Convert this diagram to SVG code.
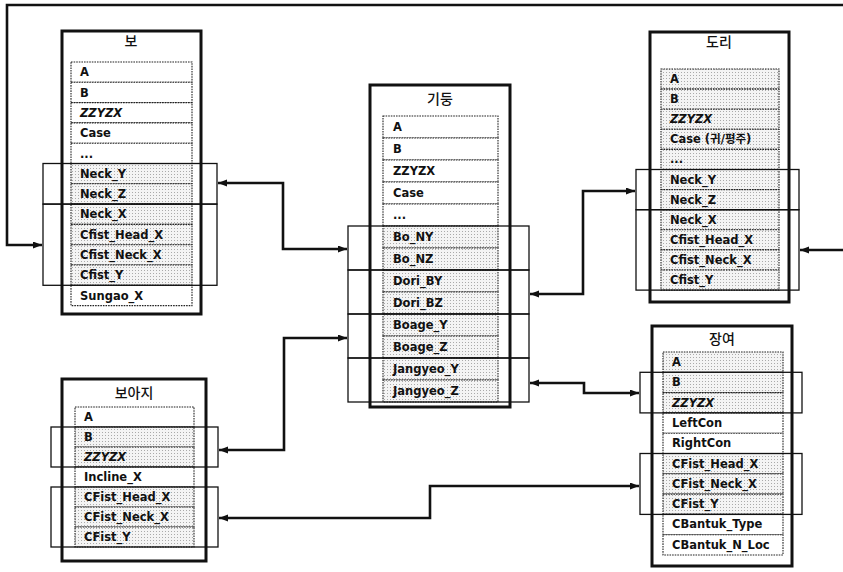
<svg xmlns="http://www.w3.org/2000/svg" width="843" height="572" viewBox="0 0 843 572">
<style>
.bg{fill:#fff}
.box{fill:#fff;stroke:#111;stroke-width:3}
.row{fill:#fff;stroke:#222;stroke-width:1.1;stroke-dasharray:1.6 1}
.sh{fill:url(#dots);stroke:#222;stroke-width:1.1;stroke-dasharray:1.6 1}
.grp{fill:none;stroke:#111;stroke-width:1.3}
.t{font-family:"DejaVu Sans","Noto Sans CJK KR",sans-serif;font-weight:bold;font-size:11.5px;fill:#111}
.it{font-style:italic}
.ti{font-family:"Noto Sans CJK KR","Noto Sans",sans-serif;font-size:14px;font-weight:500;fill:#111;text-anchor:middle}
.con{fill:none;stroke:#111;stroke-width:2.6;marker-start:url(#ah);marker-end:url(#ah)}
</style>
<defs>
<pattern id="dots" width="3" height="3" patternUnits="userSpaceOnUse"><rect width="3" height="3" fill="#f4f4f4"/><rect width="1" height="1" fill="#aaa"/></pattern>
<marker id="ah" markerUnits="userSpaceOnUse" markerWidth="10" markerHeight="8" refX="9" refY="3.5" orient="auto-start-reverse"><path d="M0,0 L9,3.5 L0,7 z" fill="#111"/></marker>
</defs>
<rect class="bg" width="843" height="572"/>

<g id="bo">
<rect class="box" x="62" y="31" width="139" height="283"/>
<text class="ti" x="131" y="46">보</text>
<rect class="row" x="71" y="62" width="121" height="20.3"/>
<rect class="row" x="71" y="82.3" width="121" height="20.3"/>
<rect class="row" x="71" y="102.6" width="121" height="20.3"/>
<rect class="row" x="71" y="122.9" width="121" height="20.3"/>
<rect class="row" x="71" y="143.2" width="121" height="20.3"/>
<rect class="sh" x="71" y="163.5" width="121" height="20.3"/>
<rect class="sh" x="71" y="183.8" width="121" height="20.3"/>
<rect class="sh" x="71" y="204.1" width="121" height="20.3"/>
<rect class="sh" x="71" y="224.4" width="121" height="20.3"/>
<rect class="sh" x="71" y="244.7" width="121" height="20.3"/>
<rect class="sh" x="71" y="265" width="121" height="20.3"/>
<rect class="row" x="71" y="285.3" width="121" height="20.3"/>
<text class="t" x="80" y="76.3">A</text>
<text class="t" x="80" y="96.6">B</text>
<text class="t it" x="80" y="116.9">ZZYZX</text>
<text class="t" x="80" y="137.2">Case</text>
<text class="t" x="80" y="157.5">...</text>
<text class="t" x="80" y="177.8">Neck_Y</text>
<text class="t" x="80" y="198.1">Neck_Z</text>
<text class="t" x="80" y="218.4">Neck_X</text>
<text class="t" x="80" y="238.7">Cfist_Head_X</text>
<text class="t" x="80" y="259">Cfist_Neck_X</text>
<text class="t" x="80" y="279.3">Cfist_Y</text>
<text class="t" x="80" y="299.6">Sungao_X</text>
<rect class="grp" x="43" y="163.5" width="174" height="40.6"/>
<rect class="grp" x="43" y="204.1" width="174" height="81.2"/>
</g>

<g id="gidung">
<rect class="box" x="370" y="85" width="140" height="322"/>
<text class="ti" x="440" y="104">기둥</text>
<rect class="row" x="383" y="116" width="115" height="22"/>
<rect class="row" x="383" y="138" width="115" height="22"/>
<rect class="row" x="383" y="160" width="115" height="22"/>
<rect class="row" x="383" y="182" width="115" height="22"/>
<rect class="row" x="383" y="204" width="115" height="22"/>
<rect class="sh" x="383" y="226" width="115" height="22"/>
<rect class="sh" x="383" y="248" width="115" height="22"/>
<rect class="sh" x="383" y="270" width="115" height="22"/>
<rect class="sh" x="383" y="292" width="115" height="22"/>
<rect class="sh" x="383" y="314" width="115" height="22"/>
<rect class="sh" x="383" y="336" width="115" height="22"/>
<rect class="sh" x="383" y="358" width="115" height="22"/>
<rect class="sh" x="383" y="380" width="115" height="22"/>
<text class="t" x="393" y="131">A</text>
<text class="t" x="393" y="153">B</text>
<text class="t" x="393" y="175">ZZYZX</text>
<text class="t" x="393" y="197">Case</text>
<text class="t" x="393" y="219">...</text>
<text class="t" x="393" y="241">Bo_NY</text>
<text class="t" x="393" y="263">Bo_NZ</text>
<text class="t" x="393" y="285">Dori_BY</text>
<text class="t" x="393" y="307">Dori_BZ</text>
<text class="t" x="393" y="329">Boage_Y</text>
<text class="t" x="393" y="351">Boage_Z</text>
<text class="t" x="393" y="373">Jangyeo_Y</text>
<text class="t" x="393" y="395">Jangyeo_Z</text>
<rect class="grp" x="348" y="226" width="181" height="44"/>
<rect class="grp" x="348" y="270" width="181" height="44"/>
<rect class="grp" x="348" y="314" width="181" height="44"/>
<rect class="grp" x="348" y="358" width="181" height="44"/>
</g>

<g id="dori">
<rect class="box" x="650" y="32" width="139" height="270"/>
<text class="ti" x="719" y="47">도리</text>
<rect class="sh" x="661" y="69" width="118" height="20.1"/>
<rect class="sh" x="661" y="89.1" width="118" height="20.1"/>
<rect class="sh" x="661" y="109.2" width="118" height="20.1"/>
<rect class="sh" x="661" y="129.3" width="118" height="20.1"/>
<rect class="sh" x="661" y="149.4" width="118" height="20.1"/>
<rect class="sh" x="661" y="169.5" width="118" height="20.1"/>
<rect class="sh" x="661" y="189.6" width="118" height="20.1"/>
<rect class="sh" x="661" y="209.7" width="118" height="20.1"/>
<rect class="sh" x="661" y="229.8" width="118" height="20.1"/>
<rect class="sh" x="661" y="249.9" width="118" height="20.1"/>
<rect class="sh" x="661" y="270" width="118" height="20.1"/>
<text class="t" x="670" y="83">A</text>
<text class="t" x="670" y="103.1">B</text>
<text class="t it" x="670" y="123.2">ZZYZX</text>
<text class="t" x="670" y="143.3">Case (귀/평주)</text>
<text class="t" x="670" y="163.4">...</text>
<text class="t" x="670" y="183.5">Neck_Y</text>
<text class="t" x="670" y="203.6">Neck_Z</text>
<text class="t" x="670" y="223.7">Neck_X</text>
<text class="t" x="670" y="243.8">Cfist_Head_X</text>
<text class="t" x="670" y="263.9">Cfist_Neck_X</text>
<text class="t" x="670" y="284">Cfist_Y</text>
<rect class="grp" x="636" y="169.5" width="163" height="40.2"/>
<rect class="grp" x="636" y="209.7" width="163" height="80.4"/>
</g>

<g id="jangyeo">
<rect class="box" x="652" y="326" width="140" height="240"/>
<text class="ti" x="722" y="344">장여</text>
<rect class="sh" x="663" y="352" width="120" height="20.3"/>
<rect class="sh" x="663" y="372.3" width="120" height="20.3"/>
<rect class="sh" x="663" y="392.6" width="120" height="20.3"/>
<rect class="row" x="663" y="412.9" width="120" height="20.3"/>
<rect class="row" x="663" y="433.2" width="120" height="20.3"/>
<rect class="sh" x="663" y="453.5" width="120" height="20.3"/>
<rect class="sh" x="663" y="473.8" width="120" height="20.3"/>
<rect class="sh" x="663" y="494.1" width="120" height="20.3"/>
<rect class="row" x="663" y="514.4" width="120" height="20.3"/>
<rect class="row" x="663" y="534.7" width="120" height="20.3"/>
<text class="t" x="672" y="366">A</text>
<text class="t" x="672" y="386.3">B</text>
<text class="t it" x="672" y="406.6">ZZYZX</text>
<text class="t" x="672" y="426.9">LeftCon</text>
<text class="t" x="672" y="447.2">RightCon</text>
<text class="t" x="672" y="467.5">CFist_Head_X</text>
<text class="t" x="672" y="487.8">CFist_Neck_X</text>
<text class="t" x="672" y="508.1">CFist_Y</text>
<text class="t" x="672" y="528.4">CBantuk_Type</text>
<text class="t" x="672" y="548.7">CBantuk_N_Loc</text>
<rect class="grp" x="640" y="372.3" width="162" height="40.6"/>
<rect class="grp" x="640" y="453.5" width="162" height="60.9"/>
</g>

<g id="boaji">
<rect class="box" x="62" y="379" width="144" height="182"/>
<text class="ti" x="134" y="398">보아지</text>
<rect class="row" x="75" y="407" width="119" height="20"/>
<rect class="sh" x="75" y="427" width="119" height="20"/>
<rect class="sh" x="75" y="447" width="119" height="20"/>
<rect class="row" x="75" y="467" width="119" height="20"/>
<rect class="sh" x="75" y="487" width="119" height="20"/>
<rect class="sh" x="75" y="507" width="119" height="20"/>
<rect class="sh" x="75" y="527" width="119" height="20"/>
<text class="t" x="84" y="421">A</text>
<text class="t" x="84" y="441">B</text>
<text class="t it" x="84" y="461">ZZYZX</text>
<text class="t" x="84" y="481">Incline_X</text>
<text class="t" x="84" y="501">CFist_Head_X</text>
<text class="t" x="84" y="521">CFist_Neck_X</text>
<text class="t" x="84" y="541">CFist_Y</text>
<rect class="grp" x="51" y="427" width="167" height="40"/>
<rect class="grp" x="51" y="487" width="167" height="60"/>
</g>

<g id="connectors">
<path class="con" d="M218,183 H283 V249 H347"/>
<path class="con" d="M219,450 H284 V338 H347"/>
<path class="con" d="M530,294 H583 V191 H635"/>
<path class="con" d="M530,383 H584 V393 H639"/>
<path class="con" d="M219,518 H430 V486 H639"/>
<path class="con" d="M42,245 H7 V5 H860 V250 H800"/>
</g>
</svg>
